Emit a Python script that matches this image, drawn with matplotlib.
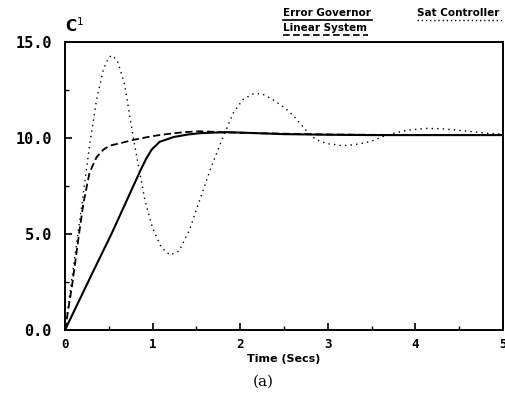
import numpy as np
import matplotlib
matplotlib.use('Agg')
import matplotlib.pyplot as plt
from matplotlib.lines import Line2D

# Error Governor (solid)
t_eg = [0, 0.3, 0.53, 0.68, 0.78, 0.86, 0.93, 0.99, 1.08, 1.24, 1.4, 1.54, 1.7, 1.85, 2.0, 2.5, 3.0, 3.5, 4.0, 4.5, 5.0]
v_eg = [0, 2.85, 5.0, 6.5, 7.5, 8.3, 8.95, 9.4, 9.8, 10.05, 10.18, 10.25, 10.28, 10.3, 10.28, 10.2, 10.17, 10.15, 10.15, 10.15, 10.15]

# Linear System (dashed)
t_ls = [0, 0.08, 0.16, 0.21, 0.28, 0.36, 0.44, 0.51, 0.65, 0.78, 1.0, 1.16, 1.35, 1.54, 1.8, 2.2, 3.0, 4.0, 5.0]
v_ls = [0, 2.3, 5.0, 6.6, 8.2, 9.0, 9.4, 9.6, 9.75, 9.9, 10.1, 10.2, 10.3, 10.35, 10.3, 10.25, 10.18, 10.15, 10.15]

# Sat Controller (dotted)
t_sc = [0, 0.1, 0.2, 0.28, 0.36, 0.44, 0.5, 0.54, 0.6, 0.68, 0.78, 0.91, 1.0, 1.1, 1.2, 1.3, 1.42, 1.54,
        1.67, 1.8, 1.92, 2.03, 2.15, 2.25, 2.37, 2.5, 2.6, 2.77, 2.87, 3.0, 3.17, 3.3, 3.48, 3.67, 3.9,
        4.12, 4.3, 4.5, 4.8, 5.0]
v_sc = [0, 3.4, 6.8, 9.6, 12.0, 13.6, 14.2, 14.3, 14.0, 12.8, 10.0, 6.8, 5.3, 4.3, 3.9, 4.1, 5.2, 6.8,
        8.5, 10.0, 11.3, 12.0, 12.3, 12.3, 12.0, 11.6, 11.2, 10.3, 9.9, 9.7, 9.6, 9.65, 9.8, 10.15, 10.4,
        10.5, 10.48, 10.4, 10.25, 10.2]

y_ticks = [0, 5, 10, 15]
y_labels = ['0.0', '5.0', '10.0', '15.0']
x_ticks = [0, 1, 2, 3, 4, 5]

fig = plt.figure(figsize=(5.06, 3.96), dpi=100)
ax = fig.add_axes([0.1285, 0.1667, 0.8655, 0.7273])

ax.plot(t_eg, v_eg, color='black', lw=1.5)
ax.plot(t_ls, v_ls, color='black', lw=1.3, linestyle=(0, (4, 2)))
ax.plot(t_sc, v_sc, color='black', lw=1.0, linestyle=(0, (1, 3)))

ax.set_xlim(0, 5)
ax.set_ylim(0, 15)
ax.set_yticks(y_ticks)
ax.set_yticklabels(y_labels, family='DejaVu Sans Mono', fontweight='bold', fontsize=11)
ax.set_xticks(x_ticks)
ax.set_xticklabels([str(x) for x in x_ticks], family='DejaVu Sans Mono', fontweight='bold', fontsize=9)
ax.set_yticks([2.5, 7.5, 12.5], minor=True)
ax.set_xticks([0.5, 1.5, 2.5, 3.5, 4.5], minor=True)
ax.tick_params(which='major', direction='in', length=5, width=1.2)
ax.tick_params(axis='y', which='major', pad=9.5)
ax.tick_params(axis='x', which='major', pad=6)
ax.tick_params(which='minor', direction='in', length=3, width=1)
for s in ax.spines.values():
    s.set_linewidth(1.4)

ax.set_xlabel('Time (Secs)', fontweight='bold', fontsize=8, labelpad=2)
ax.text(0.0, 1.025, 'C$^1$', transform=ax.transAxes, fontsize=11, fontweight='bold', va='bottom', ha='left')

fig.text(0.52, 0.035, '(a)', family='DejaVu Serif', fontsize=11, ha='center', va='center')

# legend text with underline samples
fig.text(283 / 506, 1 - 13 / 396, 'Error Governor', fontweight='bold', fontsize=7.5, ha='left', va='center')
fig.text(283 / 506, 1 - 28 / 396, 'Linear System', fontweight='bold', fontsize=7.5, ha='left', va='center')
fig.text(417 / 506, 1 - 13 / 396, 'Sat Controller', fontweight='bold', fontsize=7.5, ha='left', va='center')
fig.add_artist(Line2D([283 / 506, 372 / 506], [1 - 20 / 396] * 2, transform=fig.transFigure, color='black', lw=1.2))
fig.add_artist(Line2D([283 / 506, 368 / 506], [1 - 35 / 396] * 2, transform=fig.transFigure, color='black', lw=1.2,
                      linestyle=(0, (4, 2))))
fig.add_artist(Line2D([417 / 506, 505 / 506], [1 - 20 / 396] * 2, transform=fig.transFigure, color='black', lw=1.0,
                      linestyle=(0, (1, 2))))

fig.savefig('out.png', dpi=100)
